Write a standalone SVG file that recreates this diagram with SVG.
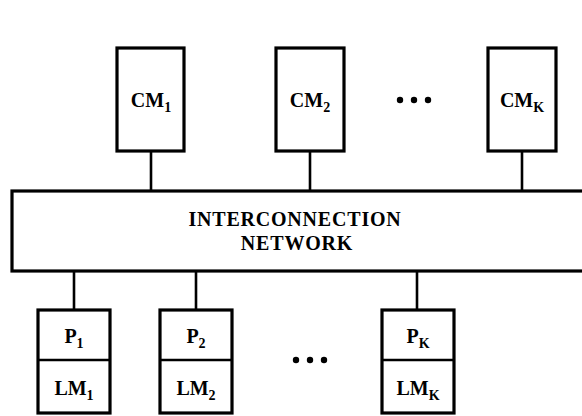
<svg xmlns="http://www.w3.org/2000/svg" width="582" height="416" viewBox="0 0 582 416">
<style>
.box{fill:#fff;stroke:#000;stroke-width:3.2}
.ln{stroke:#000;stroke-width:2.6;fill:none}
.t{font-family:"Liberation Serif","Times New Roman",serif;font-weight:bold;font-size:20px;fill:#000;text-anchor:middle}
.sub{font-size:14px}
.nt{font-family:"Liberation Serif","Times New Roman",serif;font-weight:bold;font-size:20px;letter-spacing:0.8px;fill:#000;text-anchor:middle}
.dot{fill:#000}
</style>
<rect width="582" height="416" fill="#fff"/>
<g id="connectors">
<line class="ln" x1="151" y1="150" x2="151" y2="192"/>
<line class="ln" x1="310" y1="150" x2="310" y2="192"/>
<line class="ln" x1="522" y1="150" x2="522" y2="192"/>
<line class="ln" x1="74" y1="270" x2="74" y2="310"/>
<line class="ln" x1="196" y1="270" x2="196" y2="310"/>
<line class="ln" x1="417" y1="270" x2="417" y2="310"/>
</g>
<g id="cm1">
<rect class="box" x="117" y="48" width="67" height="103"/>
<text class="t" x="151" y="107">CM<tspan class="sub" dy="5">1</tspan></text>
</g>
<g id="cm2">
<rect class="box" x="276" y="48" width="68" height="103"/>
<text class="t" x="310" y="107">CM<tspan class="sub" dy="5">2</tspan></text>
</g>
<g id="dots-top">
<circle class="dot" cx="400" cy="100" r="3.2"/>
<circle class="dot" cx="414" cy="100" r="3.2"/>
<circle class="dot" cx="428" cy="100" r="3.2"/>
</g>
<g id="cmk">
<rect class="box" x="488" y="48" width="68" height="103"/>
<text class="t" x="522" y="107">CM<tspan class="sub" dy="5">K</tspan></text>
</g>
<g id="network">
<rect class="box" x="12" y="191" width="600" height="80"/>
<text class="nt" x="295" y="226">INTERCONNECTION</text>
<text class="nt" x="297" y="250">NETWORK</text>
</g>
<g id="pe1">
<rect class="box" x="38" y="310" width="72" height="103"/>
<line class="ln" x1="38" y1="360" x2="110" y2="360" stroke-width="3"/>
<text class="t" x="74" y="343">P<tspan class="sub" dy="5">1</tspan></text>
<text class="t" x="74" y="395">LM<tspan class="sub" dy="5">1</tspan></text>
</g>
<g id="pe2">
<rect class="box" x="160" y="310" width="72" height="103"/>
<line class="ln" x1="160" y1="360" x2="232" y2="360" stroke-width="3"/>
<text class="t" x="196" y="343">P<tspan class="sub" dy="5">2</tspan></text>
<text class="t" x="196" y="395">LM<tspan class="sub" dy="5">2</tspan></text>
</g>
<g id="dots-bottom">
<circle class="dot" cx="296" cy="360" r="3.2"/>
<circle class="dot" cx="310" cy="360" r="3.2"/>
<circle class="dot" cx="324" cy="360" r="3.2"/>
</g>
<g id="pek">
<rect class="box" x="382" y="310" width="72" height="103"/>
<line class="ln" x1="382" y1="360" x2="454" y2="360" stroke-width="3"/>
<text class="t" x="418" y="343">P<tspan class="sub" dy="5">K</tspan></text>
<text class="t" x="418" y="395">LM<tspan class="sub" dy="5">K</tspan></text>
</g>
</svg>
